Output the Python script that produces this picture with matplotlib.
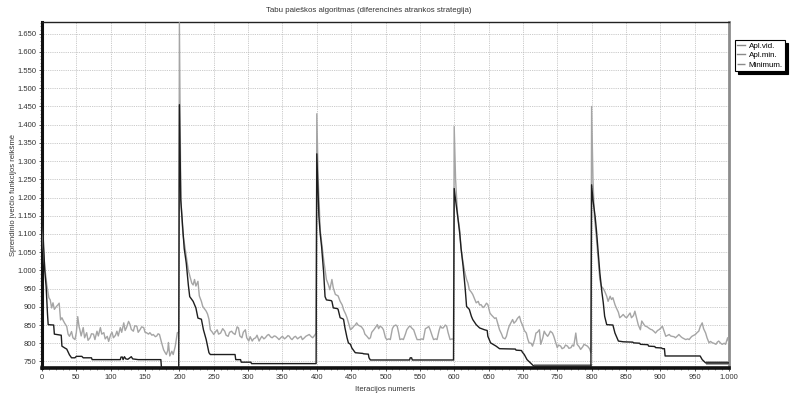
import numpy as np
import matplotlib
matplotlib.use("Agg")
import matplotlib.pyplot as plt
from matplotlib.ticker import MultipleLocator, FuncFormatter

plt.rcParams['font.family'] = ['Liberation Sans', 'DejaVu Sans']

# Apl.vid. (average of neighbourhood) - iteration / value pairs
vid_iter = [0, 2, 4, 7, 10, 12, 14, 16, 18, 21, 23, 25, 27, 29, 31, 33, 36, 38, 40, 43, 45, 48, 50, 52, 54, 55, 57, 60, 62, 65, 67, 70, 72, 75, 77, 80, 82, 85, 87, 90, 92, 95, 97, 100, 102, 104, 107, 109, 111, 114, 116, 119, 121, 123, 126, 128, 130, 133, 135, 138, 140, 143, 145, 148, 150, 152, 155, 157, 160, 162, 165, 167, 169, 171, 174, 177, 179, 181, 183, 184, 186, 189, 191, 194, 197, 199,
            200, 202, 205, 208, 213, 218, 220, 222, 224, 227, 229, 232, 234, 239, 241, 243, 245, 248, 250, 252, 255, 257, 260, 263, 266, 268, 271, 273, 276, 278, 281, 284, 286, 288, 291, 293, 296, 298, 301, 303, 306, 308, 311, 313, 316, 318, 320, 323, 325, 328, 330, 333, 335, 338, 340, 343, 345, 348, 350, 353, 355, 358, 360, 362, 364, 367, 369, 372, 374, 377, 379, 382, 384, 387, 389, 392, 394, 397, 399,
            400, 402, 405, 408, 410, 414, 417, 419, 422, 424, 427, 431, 434, 437, 439, 442, 444, 447, 449, 452, 454, 456, 458, 460, 463, 465, 468, 470, 473, 476, 478, 480, 483, 486, 488, 490, 492, 495, 497, 500, 502, 505, 507, 510, 512, 515, 517, 519, 521, 524, 526, 529, 531, 534, 536, 539, 541, 544, 546, 550, 553, 555, 558, 560, 563, 565, 568, 570, 573, 575, 578, 580, 582, 584, 587, 589, 591, 594, 597, 599,
            600, 602, 605, 608, 610, 613, 616, 618, 620, 622, 625, 627, 630, 632, 635, 637, 639, 642, 644, 647, 649, 652, 654, 656, 659, 661, 664, 666, 669, 671, 674, 676, 678, 680, 683, 685, 687, 690, 692, 695, 697, 700, 702, 705, 707, 709, 712, 714, 717, 719, 721, 724, 726, 729, 731, 733, 736, 738, 740, 743, 745, 748, 750, 752, 755, 757, 760, 762, 765, 767, 770, 772, 774, 777, 779, 782, 784, 787, 789, 791, 794, 797, 799,
            800, 802, 804, 807, 810, 812, 814, 817, 819, 822, 824, 827, 829, 831, 834, 836, 839, 841, 844, 846, 849, 851, 854, 856, 858, 861, 863, 866, 868, 871, 873, 876, 878, 881, 883, 886, 888, 891, 893, 896, 898, 901, 903, 906, 908, 911, 913, 915, 917, 920, 922, 925, 927, 930, 932, 935, 937, 940, 942, 944, 946, 949, 951, 954, 956, 958, 961, 963, 966, 968, 971, 973, 976, 978, 981, 983, 985, 988, 990, 993, 995, 998, 1000]
vid_val = [1120, 1060, 1010, 960, 925, 919, 897, 911, 893, 901, 905, 910, 864, 870, 862, 855, 846, 825, 819, 832, 815, 810, 830, 873, 845, 838, 820, 843, 815, 829, 808, 815, 826, 825, 810, 833, 820, 843, 825, 829, 812, 819, 805, 824, 830, 815, 822, 833, 820, 843, 830, 856, 835, 843, 860, 852, 838, 833, 848, 847, 830, 838, 845, 843, 830, 829, 825, 829, 822, 824, 818, 820, 826, 824, 802, 782, 775, 769, 780, 802, 765, 778, 769, 792, 829, 830,
           1680, 1200, 1100, 1065, 1000, 965, 960, 975, 957, 970, 930, 915, 901, 888, 880, 866, 837, 830, 824, 830, 837, 825, 828, 840, 833, 822, 819, 830, 833, 828, 824, 845, 842, 820, 815, 830, 837, 815, 806, 818, 806, 812, 815, 822, 806, 813, 819, 812, 815, 822, 824, 817, 815, 820, 819, 814, 810, 816, 819, 812, 815, 821, 819, 813, 810, 817, 819, 812, 815, 819, 810, 815, 819, 822, 824, 818, 815, 822, 828,
           1430, 1250, 1110, 1060, 1029, 975, 960, 947, 975, 952, 934, 930, 915, 905, 892, 880, 870, 850, 837, 842, 847, 850, 856, 850, 847, 845, 837, 825, 819, 812, 815, 830, 837, 845, 851, 840, 847, 843, 837, 815, 810, 812, 810, 840, 847, 850, 847, 830, 810, 812, 810, 825, 837, 845, 847, 840, 837, 820, 810, 810, 812, 810, 840, 842, 846, 837, 820, 810, 812, 810, 835, 847, 842, 842, 850, 847, 830, 810, 812, 810,
           1395, 1250, 1150, 1111, 1060, 1020, 990, 975, 965, 947, 940, 934, 920, 911, 915, 905, 906, 898, 901, 910, 906, 883, 878, 874, 868, 870, 850, 837, 825, 815, 812, 819, 835, 847, 858, 865, 855, 861, 868, 874, 860, 847, 835, 828, 812, 801, 800, 792, 810, 828, 830, 837, 797, 815, 833, 826, 819, 825, 833, 828, 819, 800, 788, 795, 792, 785, 788, 795, 792, 786, 788, 795, 792, 828, 797, 790, 783, 790, 797, 795, 792, 785, 774,
           1450, 1250, 1150, 1090, 1020, 975, 957, 950, 943, 929, 915, 929, 920, 925, 906, 897, 885, 870, 875, 879, 872, 870, 878, 883, 870, 876, 888, 865, 850, 837, 861, 852, 847, 845, 842, 838, 837, 832, 828, 835, 837, 842, 847, 830, 819, 822, 824, 820, 819, 818, 815, 820, 824, 818, 815, 812, 810, 812, 810, 815, 819, 822, 824, 830, 833, 845, 856, 840, 828, 815, 801, 805, 801, 800, 797, 803, 806, 800, 797, 800, 797, 815, 801]

# Apl.min. (best in the current run)
amin_iter = [0, 2, 4, 6, 8, 9, 17, 18, 28, 29, 34, 36, 40, 43, 48, 50, 58, 60, 72, 73, 114, 115, 117, 118, 120, 122, 125, 130, 132, 140, 173, 174, 199,
             200, 202, 205, 207, 210, 213, 215, 220, 224, 227, 232, 235, 239, 243, 245, 281, 282, 289, 290, 304, 305, 399,
             400, 403, 405, 407, 410, 412, 414, 421, 422, 424, 430, 431, 434, 438, 439, 441, 444, 446, 449, 451, 456, 467, 468, 475, 476, 478, 535, 536, 538, 539, 599,
             600, 602, 605, 608, 610, 613, 616, 618, 622, 625, 627, 632, 637, 644, 648, 649, 653, 661, 666, 689, 690, 698, 699, 702, 706, 711, 716, 799,
             800, 802, 805, 807, 810, 812, 815, 817, 819, 822, 831, 834, 837, 839, 846, 860, 861, 870, 871, 882, 883, 892, 893, 902, 903, 906, 907, 958, 961, 966, 1000]
amin_val = [1170, 1080, 1000, 956, 880, 851, 850, 825, 822, 792, 786, 784, 768, 760, 760, 764, 764, 760, 760, 755, 755, 762, 762, 755, 763, 757, 756, 763, 757, 755, 755, 730, 730,
            1455, 1193, 1111, 1060, 1020, 960, 928, 915, 897, 869, 866, 837, 810, 774, 769, 769, 755, 755, 748, 748, 744, 744,
            1320, 1150, 1100, 1065, 993, 928, 919, 917, 915, 897, 895, 893, 870, 867, 865, 842, 815, 801, 797, 787, 774, 772, 771, 770, 760, 754, 754, 760, 760, 754, 754,
            1225, 1193, 1150, 1102, 1060, 1011, 950, 901, 893, 874, 865, 851, 842, 837, 835, 819, 801, 792, 785, 784, 781, 780, 776, 769, 755, 746, 737, 737,
            1235, 1193, 1150, 1111, 1040, 993, 940, 911, 874, 851, 850, 828, 815, 806, 804, 803, 801, 800, 797, 796, 792, 791, 788, 787, 785, 785, 765, 765, 755, 746, 746]

# Minimum. (only visible where it rises above the lower axis edge)
minimum_iter = [716, 800, np.nan, 966, 1000]
minimum_val = [737, 737, np.nan, 746, 746]

title = "Tabu paieškos algoritmas (diferencinės atrankos strategija)"
xlabel = "Iteracijos numeris"
ylabel = "Sprendinio įverčio funkcijos reikšmė"
labels = ["Apl.vid.", "Apl.min.", "Minimum."]

W, H = 797, 393
fig = plt.figure(figsize=(W / 100, H / 100), dpi=100)
ax = fig.add_axes([42 / W, 1 - 368 / H, (729 - 42) / W, (368 - 22) / H])

ax.plot(minimum_iter, minimum_val, color="#8a8a8a", lw=2.6, label=labels[2], zorder=2, solid_capstyle="butt")
ax.plot(vid_iter, vid_val, color="#a5a5a5", lw=1.0, label=labels[0], zorder=3)
ax.plot(amin_iter, amin_val, color="#1e1e1e", lw=1.0, label=labels[1], zorder=4)

ax.set_xlim(0, 1000)
ax.set_ylim(732, 1682)

fmt = FuncFormatter(lambda v, p: f"{v:,.0f}".replace(",", "."))
ax.xaxis.set_major_locator(MultipleLocator(50))
ax.xaxis.set_minor_locator(MultipleLocator(10))
ax.yaxis.set_major_locator(MultipleLocator(50))
ax.yaxis.set_minor_locator(MultipleLocator(10))
ax.xaxis.set_major_formatter(fmt)
ax.yaxis.set_major_formatter(fmt)
ax.tick_params(axis="both", which="major", labelsize=5.5, length=2.5, width=0.6, pad=1.5, colors="#333333")
ax.tick_params(axis="both", which="minor", length=1.5, width=0.5, colors="#666666")

ax.grid(True, which="major", color="#b8b8b8", lw=0.6, linestyle=(0, (1, 1.2)))
ax.set_axisbelow(True)

ax.spines["left"].set_linewidth(2.2)
ax.spines["left"].set_color("#111111")
ax.spines["bottom"].set_linewidth(2.6)
ax.spines["bottom"].set_color("#111111")
ax.spines["top"].set_linewidth(1.0)
ax.spines["top"].set_color("#222222")
ax.spines["right"].set_linewidth(2.0)
ax.spines["right"].set_color("#8c8c8c")

ax.set_xlabel(xlabel, fontsize=5.5, color="#333333")
ax.xaxis.set_label_coords(0.5, -0.053)
ax.set_ylabel(ylabel, fontsize=5.5, color="#333333")
ax.yaxis.set_label_coords(-0.037, 0.5)

fig.text(369 / W, 1 - 10 / H, title, fontsize=5.7, ha="center", va="center", color="#333333")

handles, labs = ax.get_legend_handles_labels()
order = [labs.index(l) for l in labels]
leg = fig.legend([handles[i] for i in order], [labs[i] for i in order],
                 loc="upper left", bbox_to_anchor=(735 / W, 1 - 40 / H),
                 fontsize=5.8, frameon=True, fancybox=False, shadow={"color": "black", "alpha": 1},
                 handlelength=1.0, handletextpad=0.4, borderpad=0.3, labelspacing=0.2,
                 borderaxespad=0)
leg.get_frame().set_edgecolor("black")
leg.get_frame().set_linewidth(0.8)
for line in leg.get_lines():
    line.set_linewidth(1.0)
    line.set_color("#8a8a8a")

fig.savefig("out.png", dpi=100)
